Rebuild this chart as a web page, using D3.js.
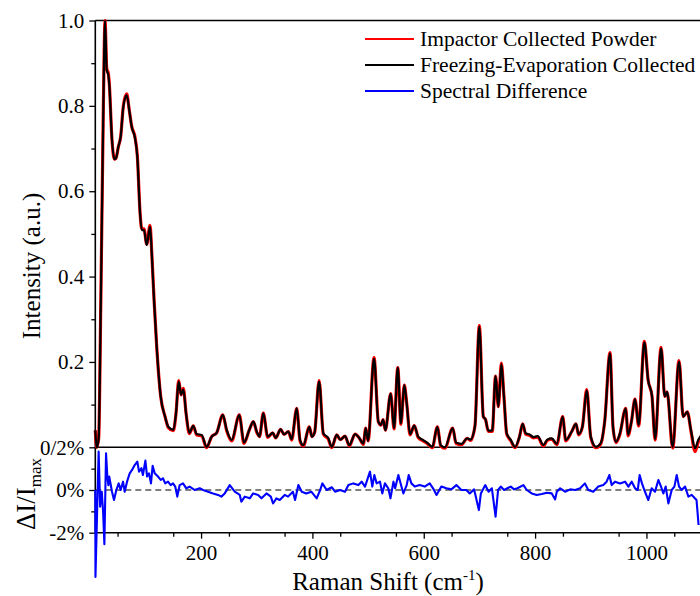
<!DOCTYPE html>
<html>
<head>
<meta charset="utf-8">
<script src="https://cdn.jsdelivr.net/npm/d3@7"></script>
<style>
  body { margin: 0; background: #fff; }
  svg text { font-family: "Liberation Serif", "Times New Roman", Times, Tinos, "DejaVu Serif", "Noto Serif", serif !important; fill: #000; }
</style>
</head>
<body>
<div id="chart"></div>
<script>
// spectrum (Raman shift, normalised intensity)
var ramanShift = [10,12.5,16,20,24.5,27.5,30.5,33.4,35,40,44.2,47,51.4,55.6,60.4,66.4,71,75.4,81.4,85.5,90.4,93.4,97.5,102.4,108.3,111.4,115.5,120.3,127.5,135.3,141.2,150.2,155,159.8,164,168.2,173,179,186,192,201,210,219,228,239,246,255,268.7,277,286.7,294,300,305,311.8,319.7,328.7,334,343,349,356.8,362.8,371.8,377.8,383.7,394.5,399,404,412,419.6,428.6,434.7,443.7,450,458.6,466.3,476.6,484,491.5,495.8,500,510.7,518.4,523,527,531,540.7,546.6,553.3,559,565,569.4,575.4,583,590,599,607,615.4,624.4,630.5,638,652,658,668,678,684,692,699.8,707,711,716,723,729,734,739.4,744,749,756,764,772,777.7,783,790,797,804.7,814.8,822,830,839,849.6,855,865.8,873.5,878,885,892.7,900,909.5,918,925,934.6,940,945.4,952,962.8,967,973,979.5,986,996.3,1003,1010,1015.5,1026.3,1033,1037,1047.2,1058.5,1066,1073.5,1080,1087.4,1093,1100];
var impactor = [0.040,0.000,0.020,0.350,0.800,1.000,0.888,0.876,0.855,0.720,0.675,0.677,0.704,0.728,0.800,0.828,0.790,0.752,0.726,0.683,0.550,0.512,0.512,0.476,0.520,0.457,0.347,0.236,0.119,0.072,0.046,0.039,0.080,0.156,0.123,0.138,0.080,0.032,0.050,0.029,0.027,-0.001,0.025,0.034,0.076,0.039,0.015,0.076,0.009,0.041,0.060,0.035,0.025,0.080,0.023,0.034,0.022,0.042,0.030,0.037,0.017,0.091,0.015,0.003,0.048,0.025,0.035,0.156,0.031,0.019,-0.001,0.029,0.018,0.026,0.003,0.031,0.022,0.007,0.045,0.015,0.210,0.060,0.052,0.065,0.040,0.126,0.043,0.187,0.054,0.146,0.103,0.029,0.051,0.023,0.015,0.008,-0.001,0.048,0.003,-0.002,0.045,0.009,0.006,0.021,0.016,0.050,0.285,0.072,0.065,0.037,0.037,0.167,0.095,0.197,0.120,0.031,0.016,-0.001,0.025,0.055,0.031,0.028,0.022,0.024,0.003,0.016,0.019,0.006,0.072,0.015,0.037,0.055,0.029,0.048,0.135,0.023,-0.001,0.008,0.060,0.222,0.046,0.011,0.029,0.091,0.027,0.060,0.113,0.050,0.248,0.158,0.120,0.017,0.234,0.119,0.130,-0.002,0.203,0.072,0.083,0.038,-0.010,0.012,0.030];
var freezing = [0.040,0.000,0.020,0.350,0.800,1.000,0.884,0.872,0.853,0.720,0.675,0.677,0.704,0.728,0.798,0.825,0.790,0.751,0.724,0.681,0.548,0.509,0.509,0.474,0.517,0.455,0.345,0.236,0.119,0.072,0.048,0.041,0.080,0.154,0.123,0.136,0.080,0.034,0.050,0.031,0.029,0.001,0.025,0.034,0.076,0.041,0.017,0.076,0.011,0.041,0.060,0.037,0.025,0.080,0.025,0.034,0.022,0.042,0.030,0.037,0.019,0.091,0.017,0.005,0.048,0.025,0.035,0.154,0.033,0.021,0.001,0.029,0.018,0.026,0.005,0.031,0.022,0.009,0.045,0.015,0.208,0.060,0.052,0.065,0.040,0.126,0.045,0.187,0.056,0.146,0.103,0.031,0.051,0.025,0.017,0.010,0.001,0.048,0.005,0.000,0.045,0.011,0.008,0.021,0.018,0.050,0.283,0.072,0.065,0.039,0.039,0.167,0.095,0.195,0.120,0.033,0.018,0.001,0.025,0.055,0.033,0.030,0.024,0.026,0.005,0.018,0.021,0.008,0.072,0.017,0.037,0.055,0.031,0.048,0.133,0.025,0.001,0.010,0.060,0.220,0.048,0.013,0.031,0.091,0.029,0.060,0.113,0.052,0.246,0.158,0.120,0.019,0.232,0.119,0.130,0.001,0.201,0.072,0.083,0.040,-0.002,0.017,0.030];

// spectral difference, percent of max intensity
var diffShift = [10,10.3,16,18.7,21.6,24,26.3,29.3,31.6,33.5,35,40,43.6,47.8,52,55.5,59.8,62.8,67,71.8,76,80.8,85.5,88.6,92.8,95.5,100,103,106.5,110,113,116.7,122.7,127.5,131.5,135.6,140.6,145.5,149.6,153.6,157.3,161.5,167.5,173.5,179.5,188.5,197.5,203.5,212.5,221.5,230.5,236.4,242.5,251.5,260.5,269.5,272.4,278.5,287.5,293.5,302.5,308.5,317.5,325.3,329.3,335.3,341.3,350.3,356.2,365,368.8,374.8,380.8,389,398,407.7,413.9,417.9,425.7,434.7,440.7,449.6,458.6,464.6,473.5,482.5,488.5,494.5,503.4,507.6,511.2,515.4,521.4,525.5,530.3,536.3,540.2,545.6,548.6,554.4,559.2,563.4,569.4,573,577.8,583.8,592.7,601.7,610.7,616.7,623,631.6,640.6,649.6,658.6,667.6,676.6,682.6,690.4,699,702.6,710.5,716.5,722.4,729,733.5,738.3,744.3,750.3,756.3,762.3,768.3,779,785,794,803,812,821,830,836,839,845,854,863,872,881,889.5,895.5,904.5,913.5,922.5,928.5,933.4,937.6,943.6,952.6,961.6,967.6,973.6,979.6,984.4,987.8,992,996.2,1003.4,1009.4,1015.4,1021.4,1026.2,1030.4,1034.6,1039.4,1045.4,1050.2,1054.4,1058.6,1063.4,1069.4,1075.4,1081.4,1087,1090,1093.7];
var diffValue = [0,-4.07,1.8,-0.78,-0.08,-1.0,-2.54,1.72,0.63,0.23,0.63,-0.08,-0.47,0,0.31,0,0.39,-0.08,0.39,0.78,0.94,1.17,1.33,0.86,1.02,0.70,1.38,0.63,0.78,0.31,1.13,0.78,0.63,0.47,0.55,0.31,0.39,0.23,0.31,0.16,-0.31,0.23,0.31,0.08,0.16,0,0.08,0,-0.08,-0.16,-0.23,-0.31,-0.16,0.23,-0.08,-0.23,-0.55,-0.31,-0.39,-0.16,-0.23,-0.39,-0.16,-0.31,-0.63,-0.39,-0.47,-0.23,-0.31,-0.08,-0.47,0.23,-0.08,-0.16,-0.08,-0.39,0,0.31,0,0.13,-0.08,0,-0.08,0.23,0.31,0.23,0.39,0.16,0.86,0.16,0.70,0.31,0.39,-0.16,0.31,0.08,-0.39,0.39,0.08,0.70,0.23,-0.16,0.23,0.70,0.31,0.16,0.23,0.16,0.31,0.08,-0.23,0.16,0.08,0.03,0.23,0,0,-0.16,0.03,-0.94,-0.16,0.23,-0.08,0.08,-1.25,0,0.16,0,0.08,0.16,0.03,0.08,0.23,0,-0.16,-0.23,-0.19,-0.13,-0.16,-0.44,-0.08,0.08,-0.08,0.03,0,0.08,0.31,0,-0.08,0.16,0.23,0.39,0.70,0.23,0.39,0.31,0.39,0.16,0.39,0.08,0,0.70,0.31,0,-0.47,0.08,-0.08,0.47,0.16,-0.16,0.16,-0.63,0,0.16,0.70,0.16,0,0.16,-0.31,-0.23,-0.39,-0.47,-1.64];

var xTicks = [200, 400, 600, 800, 1000];
var topTicks = [0.2, 0.4, 0.6, 0.8, 1.0];
var botTicks = [-2, 0];
var legendNames = ["Impactor Collected Powder", "Freezing-Evaporation Collected", "Spectral Difference"];
var legendColors = ["#ff0000", "#000000", "#0000ff"];

var serif = '"Liberation Serif", "Times New Roman", Times, Tinos, "DejaVu Serif", "Noto Serif", serif';

var W = 700, H = 596;
var svg = d3.select("#chart").append("svg").attr("width", W).attr("height", H);

var x = d3.scaleLinear().domain([10, 1100]).range([95.3, 702.1]);
var yTop = d3.scaleLinear().domain([0, 1]).range([447.3, 20.5]);
var yBot = d3.scaleLinear().domain([-2, 2]).range([532.7, 447.3]);

// bottom axis
svg.append("g").attr("transform", "translate(0," + yBot(-2) + ")")
  .call(d3.axisBottom(x).tickValues(xTicks).tickSize(6).tickPadding(6).tickFormat(d3.format("d")));
svg.append("g").attr("transform", "translate(0," + yBot(-2) + ")")
  .call(d3.axisBottom(x).tickValues(d3.range(50, 1100, 100)).tickSize(4).tickFormat(""));

// left axes
svg.append("g").attr("transform", "translate(" + x(10) + ",0)")
  .call(d3.axisLeft(yTop).tickValues(topTicks).tickSize(6).tickPadding(5).tickFormat(d3.format(".1f")));
svg.append("g").attr("transform", "translate(" + x(10) + ",0)")
  .call(d3.axisLeft(yTop).tickValues([0.1, 0.3, 0.5, 0.7, 0.9]).tickSize(4).tickFormat(""));
svg.append("g").attr("transform", "translate(" + x(10) + ",0)")
  .call(d3.axisLeft(yBot).tickValues(botTicks).tickSize(6).tickPadding(5).tickFormat(function(d) { return d + "%"; }));
svg.append("g").attr("transform", "translate(" + x(10) + ",0)")
  .call(d3.axisLeft(yBot).tickValues([-1, 1]).tickSize(4).tickFormat(""));
svg.append("g").attr("transform", "translate(" + x(10) + ",0)")
  .call(d3.axisLeft(yBot).tickValues([2]).tickSize(6).tickPadding(5).tickFormat(function() { return "0/2%"; }));

svg.selectAll("g").attr("font-family", serif);
svg.selectAll(".domain").remove();
svg.selectAll(".tick line").attr("stroke", "#000").attr("stroke-width", 1.3);
svg.selectAll(".tick text").style("font-size", "21px").attr("fill", "#000");

// frame lines
svg.append("line").attr("x1", x(10)).attr("x2", x(10)).attr("y1", yTop(1)).attr("y2", yBot(-2)).attr("stroke", "#000").attr("stroke-width", 1.6);
svg.append("line").attr("x1", x(10)).attr("x2", x(1100)).attr("y1", yTop(1)).attr("y2", yTop(1)).attr("stroke", "#000").attr("stroke-width", 1.6);
svg.append("line").attr("x1", x(10)).attr("x2", x(1100)).attr("y1", yTop(0)).attr("y2", yTop(0)).attr("stroke", "#000").attr("stroke-width", 1.6);
svg.append("line").attr("x1", x(10)).attr("x2", x(1100)).attr("y1", yBot(-2)).attr("y2", yBot(-2)).attr("stroke", "#000").attr("stroke-width", 1.6);
svg.append("line").attr("x1", x(10)).attr("x2", x(1100)).attr("y1", yBot(0)).attr("y2", yBot(0)).attr("stroke", "#000").attr("stroke-width", 1.1).attr("stroke-dasharray", "6,4");

// spectra
var specLine = d3.line().curve(d3.curveMonotoneX).x(function(d) { return x(d[0]); }).y(function(d) { return yTop(d[1]); });
svg.append("path").datum(d3.zip(ramanShift, impactor)).attr("d", specLine).attr("fill", "none").attr("stroke", "#ff0000").attr("stroke-width", 3.2).attr("stroke-linejoin", "round");
svg.append("path").datum(d3.zip(ramanShift, freezing)).attr("d", specLine).attr("fill", "none").attr("stroke", "#000").attr("stroke-width", 2.2).attr("stroke-linejoin", "round");

var diffLine = d3.line().x(function(d) { return x(d[0]); }).y(function(d) { return yBot(d[1]); });
svg.append("path").datum(d3.zip(diffShift, diffValue)).attr("d", diffLine).attr("fill", "none").attr("stroke", "#0000ff").attr("stroke-width", 2.1).attr("stroke-linejoin", "round");

// legend
var leg = svg.selectAll(".leg").data(legendNames).enter().append("g").attr("class", "leg")
  .attr("transform", function(d, i) { return "translate(365," + (39 + i * 26) + ")"; });
leg.append("line").attr("x1", 0).attr("x2", 49).attr("y1", 0).attr("y2", 0)
  .attr("stroke", function(d, i) { return legendColors[i]; }).attr("stroke-width", 2);
leg.append("text").attr("x", 55).attr("y", 7).attr("font-family", serif).style("font-size", "21.5px").text(function(d) { return d; });

// axis titles
var xt = svg.append("text").attr("x", 388).attr("y", 590).attr("text-anchor", "middle").attr("font-family", serif).style("font-size", "25px");
xt.append("tspan").text("Raman Shift (cm");
xt.append("tspan").attr("dy", -10).style("font-size", "15px").text("-1");
xt.append("tspan").attr("dy", 10).text(")");

svg.append("text").attr("transform", "translate(40,266) rotate(-90)").attr("text-anchor", "middle").attr("font-family", serif).style("font-size", "25px").text("Intensity (a.u.)");

var dt = svg.append("text").attr("transform", "translate(35,494) rotate(-90)").attr("text-anchor", "middle").attr("font-family", serif).style("font-size", "27px");
dt.append("tspan").text("\u0394I/I");
dt.append("tspan").attr("dy", 6).style("font-size", "17px").text("max");
</script>
</body>
</html>
